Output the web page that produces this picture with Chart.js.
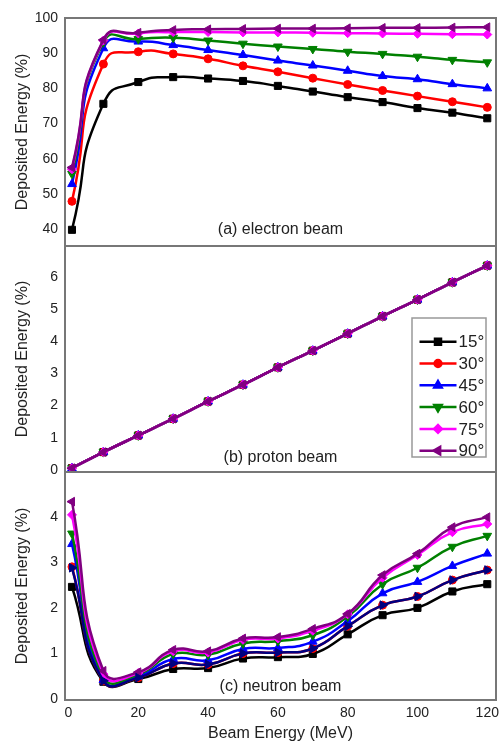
<!DOCTYPE html>
<html><head><meta charset="utf-8">
<script src="https://cdn.jsdelivr.net/npm/chart.js"></script>
<style>
html,body{margin:0;padding:0;background:#fff;}
#wrap{position:relative;width:502px;height:747px;overflow:hidden;background:#fff;}
canvas{position:absolute;left:0;}
</style></head><body>
<div id="wrap">
<canvas id="c1" width="502" height="252" style="top:0px"></canvas>
<canvas id="c2" width="502" height="240" style="top:240px"></canvas>
<canvas id="c3" width="502" height="281" style="top:466px"></canvas>
</div>
<script>
// ---------- data ----------
const beamEnergy = [1, 10, 20, 30, 40, 50, 60, 70, 80, 90, 100, 110, 120];
const angleLabels = ['15°', '30°', '45°', '60°', '75°', '90°'];
const xTicks = [0, 20, 40, 60, 80, 100, 120];
const yTicksElectron = [40, 50, 60, 70, 80, 90, 100];
const yTicksProton = [0, 1, 2, 3, 4, 5, 6];
const yTicksNeutron = [0, 1, 2, 3, 4];
const panelTitles = ['(a) electron beam', '(b) proton beam', '(c) neutron beam'];

const electron15 = [39.8, 75.6, 81.8, 83.2, 82.8, 82.1, 80.7, 79.1, 77.5, 76.1, 74.4, 73.1, 71.5];
const electron30 = [47.9, 86.9, 90.4, 89.8, 88.4, 86.4, 84.7, 82.9, 81.1, 79.4, 77.8, 76.2, 74.6];
const electron45 = [52.8, 91.4, 93.3, 92.3, 90.9, 89.5, 87.9, 86.5, 85.0, 83.5, 82.6, 81.2, 80.0];
const electron60 = [55.7, 93.1, 94.0, 94.4, 93.6, 92.7, 91.9, 91.2, 90.4, 89.8, 89.0, 88.1, 87.4];
const electron75 = [57.0, 93.6, 95.6, 96.0, 96.0, 95.9, 95.9, 95.8, 95.7, 95.6, 95.5, 95.4, 95.3];
const electron90 = [57.5, 93.8, 95.8, 96.6, 96.8, 96.9, 97.0, 97.0, 97.1, 97.2, 97.2, 97.3, 97.4];

const proton15 = [0.05, 0.55, 1.07, 1.59, 2.13, 2.65, 3.19, 3.71, 4.24, 4.78, 5.30, 5.84, 6.36];
const proton30 = [0.05, 0.55, 1.07, 1.59, 2.13, 2.65, 3.19, 3.71, 4.24, 4.78, 5.30, 5.84, 6.36];
const proton45 = [0.05, 0.55, 1.07, 1.59, 2.13, 2.65, 3.19, 3.71, 4.24, 4.78, 5.30, 5.84, 6.36];
const proton60 = [0.05, 0.55, 1.07, 1.59, 2.13, 2.65, 3.19, 3.71, 4.24, 4.78, 5.30, 5.84, 6.36];
const proton75 = [0.05, 0.55, 1.07, 1.59, 2.13, 2.65, 3.19, 3.71, 4.24, 4.78, 5.30, 5.84, 6.36];
const proton90 = [0.05, 0.55, 1.07, 1.59, 2.13, 2.65, 3.19, 3.71, 4.24, 4.78, 5.30, 5.84, 6.36];

const neutron15 = [2.46, 0.38, 0.44, 0.66, 0.68, 0.89, 0.92, 0.99, 1.42, 1.84, 2.00, 2.36, 2.52];
const neutron30 = [2.90, 0.40, 0.47, 0.78, 0.76, 1.00, 1.02, 1.11, 1.60, 2.06, 2.25, 2.61, 2.83];
const neutron45 = [3.40, 0.42, 0.50, 0.88, 0.85, 1.10, 1.12, 1.26, 1.71, 2.32, 2.57, 2.92, 3.19];
const neutron60 = [3.63, 0.48, 0.54, 0.99, 0.97, 1.22, 1.27, 1.40, 1.81, 2.52, 2.88, 3.34, 3.58];
const neutron75 = [4.04, 0.55, 0.57, 1.05, 1.02, 1.30, 1.33, 1.50, 1.86, 2.66, 3.16, 3.66, 3.84];
const neutron90 = [4.33, 0.62, 0.59, 1.08, 1.05, 1.33, 1.36, 1.54, 1.87, 2.72, 3.19, 3.77, 3.99];
const neutronExtra = [2.88, 0.40, 0.47, 0.78, 0.76, 1.00, 1.02, 1.11, 1.60, 2.06, 2.25, 2.61, 2.83];

// ---------- styles ----------
const FONT = '"Liberation Sans", Arial, Helvetica, sans-serif';
const TEXT = '#222';
const seriesStyle = [
  { color: '#000000', point: 'rect', rot: 0, r: 5 },
  { color: '#ff0000', point: 'circle', rot: 0, r: 4 },
  { color: '#0000ff', point: 'triangle', rot: 0, r: 5 },
  { color: '#008000', point: 'triangle', rot: 180, r: 5 },
  { color: '#ff00ff', point: 'rectRot', rot: 0, r: 4.5 },
  { color: '#800080', point: 'triangle', rot: -90, r: 5 },
  { color: '#000080', point: 'triangle', rot: 90, r: 5 }
];

Chart.defaults.font.family = FONT;
Chart.defaults.color = TEXT;

function makeDatasets(arrays, labels, tension) {
  return arrays.map((arr, i) => {
    const s = seriesStyle[i];
    return {
      label: labels[i] || '',
      data: beamEnergy.map((x, k) => ({ x: x, y: arr[k] })),
      borderColor: s.color,
      backgroundColor: s.color,
      borderWidth: 2.5,
      pointStyle: s.point,
      pointRotation: s.rot,
      pointRadius: s.r,
      pointBorderWidth: 1,
      tension: tension,
      order: 20 - i
    };
  });
}

const panelPlugin = {
  id: 'panelBox',
  afterDatasetsDraw(chart, args, opts) {
    const ctx = chart.ctx, a = chart.chartArea;
    ctx.save();
    ctx.strokeStyle = '#777';
    ctx.lineWidth = 2;
    ctx.strokeRect(a.left, a.top, a.right - a.left, a.bottom - a.top);
    ctx.fillStyle = TEXT;
    ctx.font = '16px ' + FONT;
    ctx.textAlign = 'center';
    ctx.textBaseline = 'middle';
    ctx.fillText(opts.title, (a.left + a.right) / 2, a.bottom - opts.titleOffset);
    ctx.restore();
  }
};

const legendPlugin = {
  id: 'boxLegend',
  afterDatasetsDraw(chart, args, opts) {
    if (!opts.show) return;
    const ctx = chart.ctx, a = chart.chartArea;
    const w = 74, h = 139;
    const right = a.right - 10, bottom = a.bottom - 15;
    const left = right - w, top = bottom - h;
    ctx.save();
    ctx.fillStyle = '#fff';
    ctx.fillRect(left, top, w, h);
    ctx.strokeStyle = '#999';
    ctx.lineWidth = 1.5;
    ctx.strokeRect(left, top, w, h);
    chart.data.datasets.forEach((ds, i) => {
      if (!ds.label) return;
      const y = top + 23.7 + i * 21.8;
      ctx.strokeStyle = ds.borderColor;
      ctx.lineWidth = 2.5;
      ctx.beginPath();
      ctx.moveTo(left + 7.5, y);
      ctx.lineTo(left + 44.5, y);
      ctx.stroke();
      ctx.fillStyle = ds.backgroundColor;
      Chart.helpers.drawPoint(ctx, { pointStyle: ds.pointStyle, rotation: ds.pointRotation, radius: ds.pointRadius * 0.85, borderWidth: 1 }, left + 26, y);
      ctx.fillStyle = TEXT;
      ctx.font = '17px ' + FONT;
      ctx.textAlign = 'left';
      ctx.textBaseline = 'middle';
      ctx.fillText(ds.label, left + 46.5, y + 1);
    });
    ctx.restore();
  }
};

function zeroPad(s) { s.paddingTop = 0; s.paddingBottom = 0; s.paddingLeft = 0; s.paddingRight = 0; }

function makeChart(id, datasets, cfg) {
  return new Chart(document.getElementById(id), {
    type: 'line',
    data: { datasets: datasets },
    plugins: [panelPlugin, legendPlugin],
    options: {
      responsive: false,
      animation: false,
      devicePixelRatio: 1,
      layout: { padding: cfg.padding },
      plugins: {
        legend: { display: false },
        tooltip: { enabled: false },
        panelBox: { title: cfg.title, titleOffset: cfg.titleOffset },
        boxLegend: { show: !!cfg.legend }
      },
      scales: {
        x: {
          type: 'linear',
          min: -1, max: 122.5,
          display: cfg.showX,
          grid: { display: false, drawTicks: false },
          border: { display: false },
          afterBuildTicks: s => { s.ticks = xTicks.map(v => ({ value: v })); },
          afterFit: s => { zeroPad(s); if (cfg.showX) s.height = 47; },
          ticks: { font: { size: 14 }, color: TEXT, padding: 5, maxRotation: 0, autoSkip: false },
          title: { display: true, text: 'Beam Energy (MeV)', font: { size: 16 }, color: TEXT, padding: { top: 0, bottom: 4 } }
        },
        y: {
          type: 'linear',
          min: cfg.yMin, max: cfg.yMax,
          grid: { display: false, drawTicks: false },
          border: { display: false },
          afterBuildTicks: s => { s.ticks = cfg.yTicks.map(v => ({ value: v })); },
          afterFit: s => { zeroPad(s); s.width = 65; },
          ticks: { font: { size: 14 }, color: TEXT, padding: 7, autoSkip: false },
          title: { display: true, text: 'Deposited Energy (%)', font: { size: 16 }, color: TEXT, padding: { top: 13.4, bottom: 0 } }
        }
      }
    }
  });
}

makeChart('c1',
  makeDatasets([electron15, electron30, electron45, electron60, electron75, electron90], angleLabels, 0.6),
  { padding: { top: 18, bottom: 6, left: 0, right: 3 }, yMin: 35.2, yMax: 100, yTicks: yTicksElectron, showX: false, title: panelTitles[0], titleOffset: 16 });

makeChart('c2',
  makeDatasets([proton15, proton30, proton45, proton60, proton75, proton90], angleLabels, 0.4),
  { padding: { top: 6, bottom: 8, left: 0, right: 3 }, yMin: -0.07, yMax: 6.97, yTicks: yTicksProton, showX: false, title: panelTitles[1], titleOffset: 14, legend: true });

makeChart('c3',
  makeDatasets([neutron15, neutron30, neutron45, neutron60, neutron75, neutron90, neutronExtra], angleLabels, 0.5),
  { padding: { top: 6, bottom: 0, left: 0, right: 3 }, yMin: -0.02, yMax: 4.98, yTicks: yTicksNeutron, showX: true, title: panelTitles[2], titleOffset: 13 });
</script>
</body></html>
